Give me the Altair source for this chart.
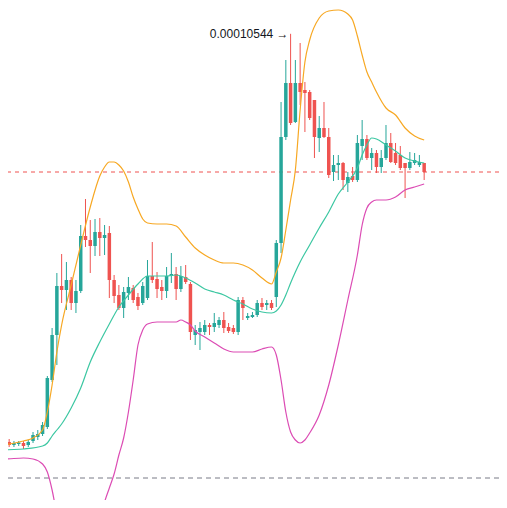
import altair as alt
import pandas as pd

PRICE_UNIT = 1e-7  # all price values below are in units of 0.0000001

open_ = [228, 238, 232, 234, 236, 232, 240, 248, 254, 268,
         362, 452, 550, 542, 562, 516, 540, 650, 642, 630,
         658, 646, 656, 562, 532, 506, 536, 546, 528, 516,
         526, 570, 564, 548, 540, 570, 574, 544, 568, 554,
         452, 458, 458, 472, 468, 472, 482, 468, 466, 458,
         522, 486, 488, 492, 516, 512, 516, 528, 636, 848,
         956, 878, 956, 942, 938, 922, 846, 866, 848, 778,
         792, 796, 756, 770, 762, 830, 844, 806, 816, 788,
         806, 836, 816, 812, 796, 786, 796, 792, 796]
close = [236, 232, 236, 237, 230, 238, 252, 254, 272, 366,
         452, 550, 542, 562, 516, 540, 650, 642, 630, 658,
         646, 652, 562, 530, 506, 538, 548, 522, 510, 550,
         570, 562, 544, 540, 570, 574, 544, 570, 558, 458,
         462, 466, 472, 468, 476, 482, 466, 460, 458, 522,
         506, 490, 492, 516, 508, 516, 506, 636, 848, 956,
         876, 956, 938, 936, 886, 848, 866, 848, 772, 792,
         796, 762, 768, 762, 836, 844, 806, 816, 788, 806,
         836, 798, 796, 786, 786, 798, 802, 798, 778]
high = [240, 244, 240, 240, 240, 242, 258, 262, 278, 370,
        466, 576, 614, 598, 568, 562, 672, 724, 682, 684,
        686, 672, 670, 572, 552, 548, 568, 552, 536, 558,
        602, 638, 578, 562, 588, 616, 588, 590, 592, 558,
        472, 478, 482, 476, 496, 488, 498, 476, 472, 528,
        528, 496, 498, 522, 526, 522, 522, 642, 918, 1002,
        1054.4, 1002, 1036, 958, 942, 922, 890, 918, 866, 812,
        812, 798, 778, 788, 852, 882, 852, 826, 822, 822,
        872, 856, 836, 830, 796, 818, 816, 812, 796]
low = [224, 228, 228, 230, 224, 228, 236, 242, 250, 264,
       358, 392, 516, 502, 502, 496, 536, 628, 576, 610,
       610, 612, 526, 516, 502, 486, 522, 516, 502, 512,
       522, 556, 526, 522, 526, 556, 522, 538, 554, 442,
       432, 422, 452, 452, 458, 466, 456, 456, 454, 452,
       482, 482, 486, 488, 502, 502, 502, 508, 616, 842,
       872, 876, 912, 858, 882, 806, 818, 846, 766, 760,
       762, 742, 738, 758, 758, 802, 802, 782, 776, 776,
       802, 796, 792, 782, 726, 782, 792, 788, 762]

# Bollinger bands, read at selected candle positions
mid_idx = [-1, 0, 4, 8, 9, 10, 11, 12, 14, 16, 18, 20, 22, 24, 26, 28, 30, 32, 34, 36,
           38, 40, 42, 44, 46, 48, 50, 52, 54, 56, 57, 58, 59, 60, 61, 62, 64, 66, 68, 70,
           72, 74, 75, 76, 77, 78, 80, 82, 84, 86, 88]
mid = [220, 222, 224, 230, 236, 250, 262, 274, 306, 346, 398, 438, 474, 508, 532, 554, 570, 570, 570, 572,
       566, 556, 544, 538, 532, 522, 514, 504, 498, 496, 500, 512, 532, 556, 578, 598, 632, 666, 698, 734,
       758, 786, 812, 832, 846, 844, 832, 820, 806, 800, 796]

up_idx = [-1, 0, 4, 6, 8, 9, 10, 11, 12, 14, 16, 18, 20, 21, 22, 23, 24, 25, 26, 27,
          28, 29, 30, 32, 34, 36, 38, 40, 42, 44, 46, 48, 50, 52, 54, 56, 57, 58, 59, 60,
          61, 62, 63, 64, 66, 68, 70, 72, 73, 74, 75, 76, 77, 78, 80, 82, 84, 86, 88]
upper = [230, 232, 240, 246, 262, 298, 352, 418, 472, 552, 632, 708, 770, 788, 798, 798, 792, 780, 758, 728,
         704, 684, 676, 674, 674, 670, 648, 626, 612, 602, 596, 596, 592, 582, 566, 554, 578, 606, 662, 722,
         782, 902, 998, 1042, 1086, 1100, 1102, 1094, 1082, 1050, 1012, 978, 958, 938, 906, 892, 866, 850, 842]

lo_idx = [-1, 0, 4, 6, 8, 9, 10, 11, 12, 14, 16, 18, 20, 21, 22, 23, 24, 25, 26, 27,
          28, 29, 30, 32, 34, 36, 37, 38, 39, 40, 42, 44, 46, 48, 50, 52, 54, 56, 57, 58,
          59, 60, 61, 62, 63, 64, 66, 68, 70, 72, 74, 75, 76, 77, 78, 80, 82, 84, 86, 88]
lower = [204, 204, 206, 204, 194, 178, 142, 92, 42, -18, -28, 12, 82, 118, 146, 174, 212, 246, 298, 362,
         432, 462, 474, 478, 478, 478, 482, 478, 472, 460, 448, 436, 424, 418, 418, 418, 424, 428, 412, 362,
         298, 258, 242, 236, 242, 256, 292, 352, 432, 522, 612, 672, 706, 718, 722, 722, 728, 742, 748, 754]

last_price = close[-1]
base_line = 166

GREEN = "#26a69a"
RED = "#ef5350"
U = PRICE_UNIT

n = len(open_)
candles = pd.DataFrame({
    "i": list(range(n)),
    "open": [v * U for v in open_],
    "close": [v * U for v in close],
    "high": [v * U for v in high],
    "low": [v * U for v in low],
    "dir": ["up" if c >= o else "down" for o, c in zip(open_, close)],
})

x_scale = alt.Scale(domain=[0.7547, 103.69], nice=False, zero=False, padding=0)
y_scale = alt.Scale(domain=[122 * U, 1106 * U], nice=False, zero=False, padding=0)
X = alt.X("i:Q", scale=x_scale, axis=None)
color = alt.Color("dir:N", scale=alt.Scale(domain=["up", "down"], range=[GREEN, RED]), legend=None)

base = alt.Chart(candles)
wicks = base.mark_rule(strokeWidth=1, clip=True).encode(
    x=X, y=alt.Y("low:Q", scale=y_scale, axis=None), y2="high:Q", color=color)
bodies = base.mark_bar(size=3.5, clip=True).encode(
    x=X, y=alt.Y("open:Q", scale=y_scale, axis=None), y2="close:Q", color=color)


def band(idx, vals, col):
    df = pd.DataFrame({"i": idx, "v": [v * U for v in vals]})
    return alt.Chart(df).mark_line(color=col, strokeWidth=1.2, interpolate="monotone", clip=True).encode(
        x=X, y=alt.Y("v:Q", scale=y_scale, axis=None))


upper_line = band(up_idx, upper, "#f7a823")
mid_line = band(mid_idx, mid, "#3cc7a2")
lower_line = band(lo_idx, lower, "#dc4cb4")

red_rule = alt.Chart(pd.DataFrame({"p": [last_price * U]})).mark_rule(
    color=RED, strokeDash=[4, 4], strokeWidth=1).encode(y=alt.Y("p:Q", scale=y_scale, axis=None))
gray_rule = alt.Chart(pd.DataFrame({"p": [base_line * U]})).mark_rule(
    color="#787b86", strokeDash=[5, 4], strokeWidth=1).encode(y=alt.Y("p:Q", scale=y_scale, axis=None))

imax = max(range(n), key=lambda k: high[k])
label_df = pd.DataFrame({"i": [imax], "p": [high[imax] * U],
                         "label": [f"{high[imax] * U:.8f} \u2192"]})
label = alt.Chart(label_df).mark_text(align="right", baseline="middle", dx=-2, fontSize=12,
                                      font="Liberation Sans", color="#131722").encode(
    x=X, y=alt.Y("p:Q", scale=y_scale, axis=None), text="label:N")

chart = alt.layer(gray_rule, red_rule, wicks, bodies, lower_line, mid_line, upper_line, label).properties(
    width=491, height=492, autosize="none", padding=0, background="white"
).configure_view(stroke=None)

chart.save("out.html", embed_options={"renderer": "svg", "actions": False})
